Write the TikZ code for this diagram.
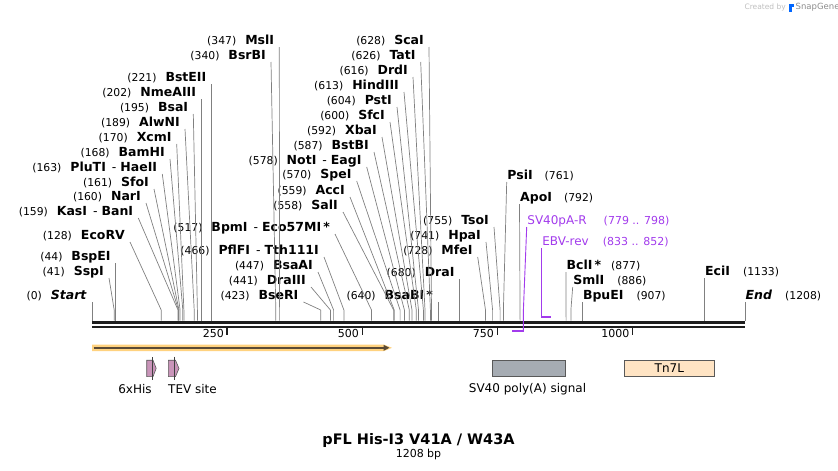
\documentclass[tikz,border=0pt]{standalone}
\usepackage{fontspec}
\setmainfont{DejaVu Sans}
\usetikzlibrary{arrows.meta}
\definecolor{sitegray}{HTML}{808080}
\definecolor{bbone}{HTML}{1E1E1E}
\definecolor{primerpurple}{HTML}{A23BEC}
\definecolor{orfband}{HTML}{FFD27F}
\definecolor{orfline}{HTML}{5A4A36}
\definecolor{tagpink}{HTML}{C994B9}
\definecolor{polyagray}{HTML}{A6ACB3}
\definecolor{tnpeach}{HTML}{FFE4C4}
\newcommand\bpnum[1]{{\mdseries\fontsize{10.8}{12}\selectfont(#1)}}
\tikzset{%
  % restriction site labels and their lines
       sitelbl/.style = {inner ysep=0pt, text height=9pt, text depth=2.5pt,
                         font=\fontsize{12.5}{14}\selectfont\bfseries},
       leftcut/.style = {sitelbl, anchor=south east, inner xsep=5pt},
      rightcut/.style = {sitelbl, anchor=south west, inner xsep=0.5pt},
       cutline/.style = {draw=sitegray, line width=0.7pt},
  % primers
     primerlbl/.style = {rightcut, text=primerpurple, font=\fontsize{12}{14}\selectfont},
    primerline/.style = {draw=primerpurple, line width=0.9pt},
     primerbar/.style = {draw=primerpurple, line width=2pt},
  % features
       featlbl/.style = {inner sep=0pt, font=\fontsize{12}{14}\selectfont},
       tagshape/.style = {fill=tagpink, draw=black!65, line width=0.6pt},
       featbox/.style = {draw=black!65, line width=0.7pt, minimum height=15.3pt},
       ticklbl/.style = {inner sep=0pt, anchor=east, font=\fontsize{11}{13}\selectfont},
}
\begin{document}
\begin{tikzpicture}[x=1pt, y=-1pt]
\useasboundingbox (0,0) rectangle (838,471);
% positions of the sites on the backbone
\coordinate (s0) at (92,320.5);       \coordinate (s41) at (114.2,320.5);
\coordinate (s44) at (115.8,320.5);   \coordinate (s128) at (161.2,320.5);
\coordinate (s159) at (178,320.5);    \coordinate (s160) at (178.5,320.5);
\coordinate (s161) at (179,320.5);    \coordinate (s163) at (180.1,320.5);
\coordinate (s168) at (182.8,320.5);  \coordinate (s170) at (183.9,320.5);
\coordinate (s189) at (194.2,320.5);  \coordinate (s195) at (197.4,320.5);
\coordinate (s202) at (201.2,320.5);  \coordinate (s221) at (211.5,320.5);
\coordinate (s340) at (275.8,320.5);  \coordinate (s347) at (279.6,320.5);
\coordinate (s423) at (320.7,320.5);  \coordinate (s441) at (330.4,320.5);
\coordinate (s447) at (333.6,320.5);  \coordinate (s466) at (343.9,320.5);
\coordinate (s517) at (371.5,320.5);  \coordinate (s558) at (393.6,320.5);
\coordinate (s559) at (394.2,320.5);  \coordinate (s570) at (400.1,320.5);
\coordinate (s578) at (404.4,320.5);  \coordinate (s587) at (409.3,320.5);
\coordinate (s592) at (412,320.5);    \coordinate (s600) at (416.3,320.5);
\coordinate (s604) at (418.5,320.5);  \coordinate (s613) at (423.4,320.5);
\coordinate (s616) at (425,320.5);    \coordinate (s626) at (430.4,320.5);
\coordinate (s628) at (431.5,320.5);  \coordinate (s640) at (438,320.5);
\coordinate (s680) at (459.6,320.5);  \coordinate (s728) at (485.5,320.5);
\coordinate (s741) at (492.6,320.5);  \coordinate (s755) at (500.1,320.5);
\coordinate (s761) at (503.4,320.5);  \coordinate (s792) at (520.1,320.5);
\coordinate (s877) at (566.1,320.5);  \coordinate (s886) at (570.9,320.5);
\coordinate (s907) at (582.3,320.5);  \coordinate (s1133) at (704.5,320.5);
\coordinate (s1208) at (745,320.5);
% site labels, left of their lines
\node (msli)    [leftcut] at (279.3,47)  {\bpnum{347}\hspace{9pt}MslI};
\node (bsrbi)   [leftcut] at (271,62)    {\bpnum{340}\hspace{9pt}BsrBI};
\node (bsteii)  [leftcut] at (211.5,84)  {\bpnum{221}\hspace{9pt}BstEII};
\node (nmeaiii) [leftcut] at (201.2,99)  {\bpnum{202}\hspace{9pt}NmeAIII};
\node (bsai)    [leftcut] at (193.3,114) {\bpnum{195}\hspace{9pt}BsaI};
\node (alwni)   [leftcut] at (185,129)   {\bpnum{189}\hspace{9pt}AlwNI};
\node (xcmi)    [leftcut] at (176.7,144) {\bpnum{170}\hspace{9pt}XcmI};
\node (bamhi)   [leftcut] at (170,159)   {\bpnum{168}\hspace{9pt}BamHI};
\node (pluti)   [leftcut] at (162.3,174) {\bpnum{163}\hspace{9pt}PluTI\hspace{6pt}{\mdseries -}\hspace{4pt}HaeII};
\node (sfoi)    [leftcut] at (154,189)   {\bpnum{161}\hspace{9pt}SfoI};
\node (nari)    [leftcut] at (146,203)   {\bpnum{160}\hspace{9pt}NarI};
\node (kasi)    [leftcut] at (138.3,218) {\bpnum{159}\hspace{9pt}KasI\hspace{6pt}{\mdseries -}\hspace{4pt}BanI};
\node (ecorv)   [leftcut] at (130,242)   {\bpnum{128}\hspace{9pt}EcoRV};
\node (bspei)   [leftcut] at (115.8,263) {\bpnum{44}\hspace{9pt}BspEI};
\node (sspi)    [leftcut] at (109,278)   {\bpnum{41}\hspace{9pt}SspI};
\node (startlbl)[leftcut] at (92,302)    {\bpnum{0}\hspace{9pt}\textit{Start}};
\node (bpmi)    [leftcut] at (335,234)   {\bpnum{517}\hspace{9pt}BpmI\hspace{6pt}{\mdseries -}\hspace{4pt}Eco57MI\,*};
\node (pflfi)   [leftcut] at (324,257)   {\bpnum{466}\hspace{9pt}PflFI\hspace{6pt}{\mdseries -}\hspace{4pt}Tth111I};
\node (bsaai)   [leftcut] at (318,272)   {\bpnum{447}\hspace{9pt}BsaAI};
\node (draiii)  [leftcut] at (311,287)   {\bpnum{441}\hspace{9pt}DraIII};
\node (bseri)   [leftcut] at (303.5,302) {\bpnum{423}\hspace{9pt}BseRI};
\node (sali)    [leftcut] at (343,212)   {\bpnum{558}\hspace{9pt}SalI};
\node (acci)    [leftcut] at (350,197)   {\bpnum{559}\hspace{9pt}AccI};
\node (spei)    [leftcut] at (356.7,181) {\bpnum{570}\hspace{9pt}SpeI};
\node (noti)    [leftcut] at (366.7,167) {\bpnum{578}\hspace{9pt}NotI\hspace{6pt}{\mdseries -}\hspace{4pt}EagI};
\node (bstbi)   [leftcut] at (374,152)   {\bpnum{587}\hspace{9pt}BstBI};
\node (xbai)    [leftcut] at (382,137)   {\bpnum{592}\hspace{9pt}XbaI};
\node (sfci)    [leftcut] at (390,122)   {\bpnum{600}\hspace{9pt}SfcI};
\node (psti)    [leftcut] at (397,107)   {\bpnum{604}\hspace{9pt}PstI};
\node (hindiii) [leftcut] at (404,92)    {\bpnum{613}\hspace{9pt}HindIII};
\node (drdi)    [leftcut] at (413,77)    {\bpnum{616}\hspace{9pt}DrdI};
\node (tati)    [leftcut] at (420.7,62)  {\bpnum{626}\hspace{9pt}TatI};
\node (scai)    [leftcut] at (429,47)    {\bpnum{628}\hspace{9pt}ScaI};
\node (bsabi)   [leftcut] at (438,302)   {\bpnum{640}\hspace{9pt}BsaBI\,*};
\node (drai)    [leftcut] at (459.6,279) {\bpnum{680}\hspace{9pt}DraI};
\node (mfei)    [leftcut] at (477.7,257) {\bpnum{728}\hspace{9pt}MfeI};
\node (hpai)    [leftcut] at (486,242)   {\bpnum{741}\hspace{9pt}HpaI};
\node (tsoi)    [leftcut] at (494,227)   {\bpnum{755}\hspace{9pt}TsoI};
% site labels, right of their lines
\node (psii)    [rightcut] at (506.7,182) {PsiI\hspace{12pt}\bpnum{761}};
\node (apoi)    [rightcut] at (519.5,204) {ApoI\hspace{12pt}\bpnum{792}};
\node (bcli)    [rightcut] at (566,272)   {BclI\,*\hspace{10pt}\bpnum{877}};
\node (smli)    [rightcut] at (572.7,287) {SmlI\hspace{13pt}\bpnum{886}};
\node (bpuei)   [rightcut] at (582.3,302) {BpuEI\hspace{13pt}\bpnum{907}};
\node (ecii)    [rightcut] at (704.5,278) {EciI\hspace{13pt}\bpnum{1133}};
\node (endlbl)  [rightcut] at (745,302)   {\textit{End}\hspace{13pt}\bpnum{1208}};
% lines from the labels to the sites
\draw[cutline] (msli.south east) -- (s347 |- 0,310) -- (s347);
\draw[cutline] (bsrbi.south east) -- (s340 |- 0,310) -- (s340);
\draw[cutline] (bsteii.south east) -- (s221 |- 0,310) -- (s221);
\draw[cutline] (nmeaiii.south east) -- (s202 |- 0,310) -- (s202);
\draw[cutline] (bsai.south east) -- (s195 |- 0,310) -- (s195);
\draw[cutline] (alwni.south east) -- (s189 |- 0,310) -- (s189);
\draw[cutline] (xcmi.south east) -- (s170 |- 0,310) -- (s170);
\draw[cutline] (bamhi.south east) -- (s168 |- 0,310) -- (s168);
\draw[cutline] (pluti.south east) -- (s163 |- 0,310) -- (s163);
\draw[cutline] (sfoi.south east) -- (s161 |- 0,310) -- (s161);
\draw[cutline] (nari.south east) -- (s160 |- 0,310) -- (s160);
\draw[cutline] (kasi.south east) -- (s159 |- 0,310) -- (s159);
\draw[cutline] (ecorv.south east) -- (s128 |- 0,310) -- (s128);
\draw[cutline] (bspei.south east) -- (s44 |- 0,310) -- (s44);
\draw[cutline] (sspi.south east) -- (s41 |- 0,310) -- (s41);
\draw[cutline] (startlbl.south east) -- (s0);
\draw[cutline] (bpmi.south east) -- (s517 |- 0,310) -- (s517);
\draw[cutline] (pflfi.south east) -- (s466 |- 0,310) -- (s466);
\draw[cutline] (bsaai.south east) -- (s447 |- 0,310) -- (s447);
\draw[cutline] (draiii.south east) -- (s441 |- 0,310) -- (s441);
\draw[cutline] (bseri.south east) -- (s423 |- 0,310) -- (s423);
\draw[cutline] (sali.south east) -- (s558 |- 0,310) -- (s558);
\draw[cutline] (acci.south east) -- (s559 |- 0,310) -- (s559);
\draw[cutline] (spei.south east) -- (s570 |- 0,310) -- (s570);
\draw[cutline] (noti.south east) -- (s578 |- 0,310) -- (s578);
\draw[cutline] (bstbi.south east) -- (s587 |- 0,310) -- (s587);
\draw[cutline] (xbai.south east) -- (s592 |- 0,310) -- (s592);
\draw[cutline] (sfci.south east) -- (s600 |- 0,310) -- (s600);
\draw[cutline] (psti.south east) -- (s604 |- 0,310) -- (s604);
\draw[cutline] (hindiii.south east) -- (s613 |- 0,310) -- (s613);
\draw[cutline] (drdi.south east) -- (s616 |- 0,310) -- (s616);
\draw[cutline] (tati.south east) -- (s626 |- 0,310) -- (s626);
\draw[cutline] (scai.south east) -- (s628 |- 0,310) -- (s628);
\draw[cutline] (bsabi.south east) -- (s640);
\draw[cutline] (drai.south east) -- (s680);
\draw[cutline] (mfei.south east) -- (s728 |- 0,310) -- (s728);
\draw[cutline] (hpai.south east) -- (s741 |- 0,310) -- (s741);
\draw[cutline] (tsoi.south east) -- (s755 |- 0,310) -- (s755);
\draw[cutline] (psii.south west) -- (s761 |- 0,310) -- (s761);
\draw[cutline] (apoi.south west) -- (s792);
\draw[cutline] (bcli.south west) -- (s877);
\draw[cutline] (smli.south west) -- (s886 |- 0,310) -- (s886);
\draw[cutline] (bpuei.south west) -- (s907);
\draw[cutline] (ecii.south west) -- (s1133);
\draw[cutline] (endlbl.south west) -- (s1208);
% backbone and ruler
\draw[bbone, line width=3pt] (92,322.5) -- (745,322.5);
\draw[bbone, line width=2pt] (92,327.2) -- (745,327.2);
\draw[bbone, line width=1.6pt] (227.1,328) -- (227.1,334.5);
\draw[bbone, line width=1.6pt] (362.3,328) -- (362.3,334.5);
\draw[bbone, line width=1.6pt] (497.4,328) -- (497.4,334.5);
\draw[bbone, line width=1.6pt] (632.6,328) -- (632.6,334.5);
\node (r250)  [ticklbl] at (224,333) {250};
\node (r500)  [ticklbl] at (359,333) {500};
\node (r750)  [ticklbl] at (494,333) {750};
\node (r1000) [ticklbl] at (629.5,333) {1000};
% primers
\node (sv40r)  [primerlbl] at (526.7,227) {SV40pA-R\hspace{17pt}{\fontsize{11}{13}\selectfont(779 .. 798)}};
\node (ebvrev) [primerlbl] at (541.7,248) {EBV-rev\hspace{14pt}{\fontsize{11}{13}\selectfont(833 .. 852)}};
\coordinate (p779) at (512.1,330.8); \coordinate (p798) at (523.4,330.8);
\coordinate (p833) at (541.7,317.2); \coordinate (p852) at (551.2,317.2);
\draw[primerline] (sv40r.south west) -- (p798 |- 0,310) -- (p798);
\draw[primerbar] (p779) -- ([xshift=0.45pt]p798);
\draw[primerline] (ebvrev.south west) -- (p833);
\draw[primerbar] ([xshift=-0.45pt]p833) -- (p852);
% features
\fill[orfband] (92,344.6) -- (384,344.6) -- (392,347.8) -- (384,351) -- (92,351) -- cycle;
\draw[orfline, line width=1.7pt, -{Triangle[length=6pt,width=5.5pt]}] (93.5,347.8) -- (389.5,347.8);
\draw[tagshape] (146.7,360.2) -- (153,360.2) -- (156.2,368.4) -- (153,376.6) -- (146.7,376.6) -- cycle;
\draw[black!75, line width=0.6pt] (151.8,357) -- (151.8,380);
\draw[tagshape] (168.4,360.2) -- (175.5,360.2) -- (179,368.4) -- (175.5,376.6) -- (168.4,376.6) -- cycle;
\draw[black!75, line width=0.6pt] (174.4,356.5) -- (174.4,380);
\node (his)  [featlbl] at (135,389.5) {6xHis};
\node (tev)  [featlbl] at (192.5,389.5) {TEV site};
\node (sv40pa) [featbox, fill=polyagray, minimum width=73.4pt, inner sep=0pt] at (529,368.4) {};
\node (sv40lbl) [featlbl] at (527.5,389.5) {SV40 poly(A) signal};
\node (tn7l) [featbox, fill=tnpeach, minimum width=90pt, inner sep=0pt,
              font=\fontsize{12}{14}\selectfont] at (669.3,368.4) {Tn7L};
% title
\node (title) [inner sep=0pt, font=\fontsize{14.5}{17}\selectfont\bfseries] at (418.5,440.5)
                                  {pFL His-I3 V41A / W43A};
\node (size)  [inner sep=0pt, font=\fontsize{11}{13}\selectfont] at (418.5,454.5) {1208 bp};
% credit
\node (credit) [inner sep=0pt, anchor=east, text=black!25, font=\fontsize{7.5}{9}\selectfont] at (786,7.5) {Created by};
\fill[blue!60!cyan] (789,3.5) rectangle (791.5,11.5);
\fill[blue!60!cyan] (791.5,3.5) -- (794,3.5) -- (794,7) -- (791.5,7) -- cycle;
\node (snapgene) [inner sep=0pt, anchor=west, text=black!45, font=\fontsize{8.5}{10}\selectfont] at (795.5,7.5) {SnapGene};
\end{tikzpicture}
\end{document}
